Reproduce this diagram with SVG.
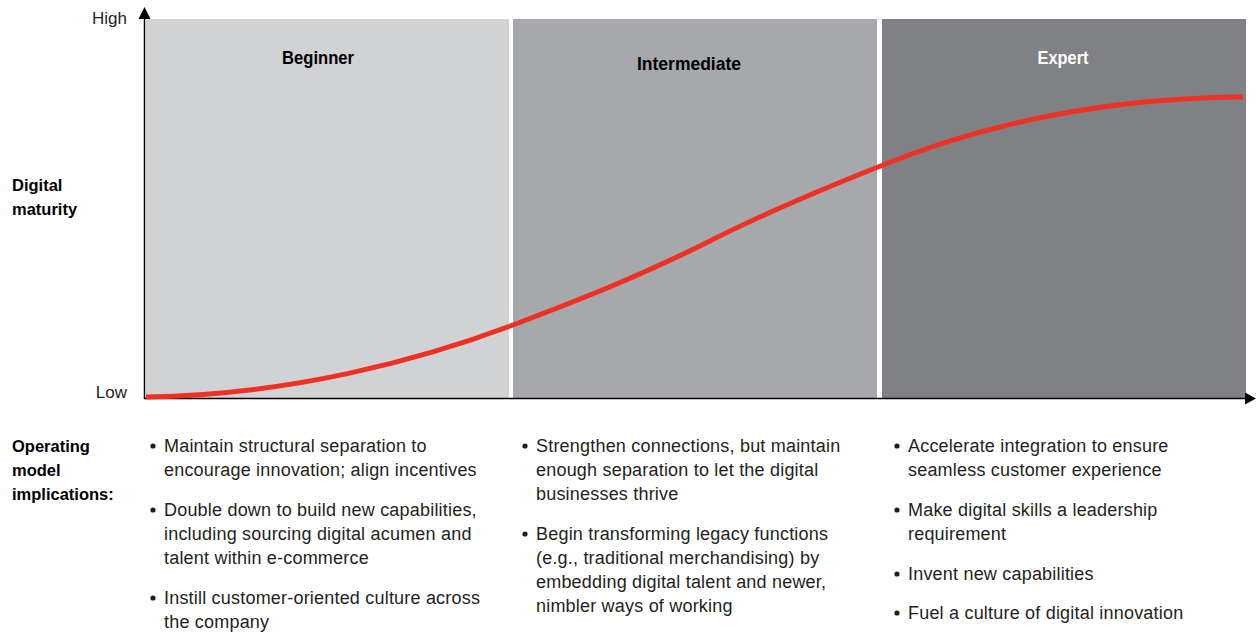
<svg xmlns="http://www.w3.org/2000/svg" width="1256" height="634" viewBox="0 0 1256 634">
<style>
.t{font-family:"Liberation Sans",Arial,sans-serif;font-size:18px;letter-spacing:0.2px;fill:#231f20}
.a{font-family:"Liberation Sans",Arial,sans-serif;font-size:17px;fill:#231f20}
.b{font-family:"Liberation Sans",Arial,sans-serif;font-size:16.5px;font-weight:bold;fill:#000}
.h{font-family:"Liberation Sans",Arial,sans-serif;font-size:19px;font-weight:bold;text-anchor:middle}
.dot{fill:#231f20}
</style>
<rect width="1256" height="634" fill="#fff"/>
<g id="panels">
<g id="beginner"><rect x="146" y="19" width="363" height="379" fill="#d1d2d4"/><text class="h" x="318" y="64" fill="#000" textLength="72" lengthAdjust="spacingAndGlyphs">Beginner</text></g>
<g id="intermediate"><rect x="513" y="19" width="364" height="379" fill="#a7a8ab"/><text class="h" x="689" y="70" fill="#000" textLength="104" lengthAdjust="spacingAndGlyphs">Intermediate</text></g>
<g id="expert"><rect x="882" y="19" width="364" height="379" fill="#808184"/><text class="h" x="1063" y="64" fill="#fff" textLength="51" lengthAdjust="spacingAndGlyphs">Expert</text></g>
</g>
<g id="connectors">
<line x1="144.5" y1="399" x2="144.5" y2="18" stroke="#000" stroke-width="1.5"/>
<polygon points="144.5,7 138.5,19 150.5,19" fill="#000"/>
<line x1="144" y1="398.5" x2="1246" y2="398.5" stroke="#000" stroke-width="1.5"/>
<polygon points="1256,398.5 1245,392.5 1245,404.5" fill="#000"/>
<path d="M146,397 C290,395 420,360 513,325 C600,292 640,275 700,246 C760,215 820,190 878,167 C980,125 1100,98 1243,97" fill="none" stroke="#ee3124" stroke-width="5"/>
</g>
<g id="axis-labels">
<text class="a" x="127" y="24" text-anchor="end">High</text>
<text class="a" x="127" y="398" text-anchor="end">Low</text>
<text class="b" x="12" y="191">Digital</text>
<text class="b" x="12" y="215">maturity</text>
<text class="b" x="12" y="452">Operating</text>
<text class="b" x="12" y="476">model</text>
<text class="b" x="12" y="500">implications:</text>
</g>
<g id="col-beginner">
<circle class="dot" cx="153" cy="446" r="2.6"/>
<text class="t" x="164" y="452">Maintain structural separation to</text>
<text class="t" x="164" y="476">encourage innovation; align incentives</text>
<circle class="dot" cx="153" cy="510" r="2.6"/>
<text class="t" x="164" y="516">Double down to build new capabilities,</text>
<text class="t" x="164" y="540">including sourcing digital acumen and</text>
<text class="t" x="164" y="564">talent within e-commerce</text>
<circle class="dot" cx="153" cy="598" r="2.6"/>
<text class="t" x="164" y="604">Instill customer-oriented culture across</text>
<text class="t" x="164" y="628">the company</text>
</g>
<g id="col-intermediate">
<circle class="dot" cx="525" cy="446" r="2.6"/>
<text class="t" x="536" y="452">Strengthen connections, but maintain</text>
<text class="t" x="536" y="476">enough separation to let the digital</text>
<text class="t" x="536" y="500">businesses thrive</text>
<circle class="dot" cx="525" cy="534" r="2.6"/>
<text class="t" x="536" y="540">Begin transforming legacy functions</text>
<text class="t" x="536" y="564">(e.g., traditional merchandising) by</text>
<text class="t" x="536" y="588">embedding digital talent and newer,</text>
<text class="t" x="536" y="612">nimbler ways of working</text>
</g>
<g id="col-expert">
<circle class="dot" cx="897" cy="446" r="2.6"/>
<text class="t" x="908" y="452">Accelerate integration to ensure</text>
<text class="t" x="908" y="476">seamless customer experience</text>
<circle class="dot" cx="897" cy="510" r="2.6"/>
<text class="t" x="908" y="516">Make digital skills a leadership</text>
<text class="t" x="908" y="540">requirement</text>
<circle class="dot" cx="897" cy="574" r="2.6"/>
<text class="t" x="908" y="580">Invent new capabilities</text>
<circle class="dot" cx="897" cy="613" r="2.6"/>
<text class="t" x="908" y="619">Fuel a culture of digital innovation</text>
</g>
</svg>
